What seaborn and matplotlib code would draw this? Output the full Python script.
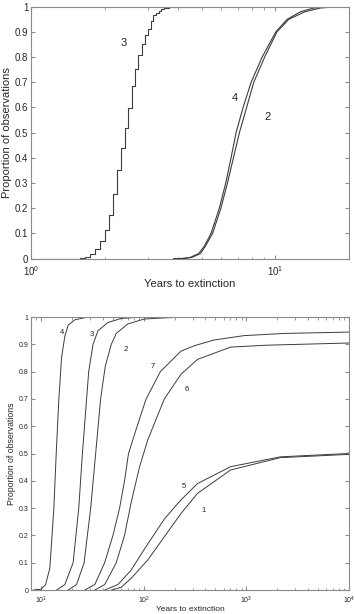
import numpy as np
import pandas as pd
import matplotlib
matplotlib.use("Agg")
import matplotlib.pyplot as plt
import matplotlib.ticker as mticker
import seaborn as sns

# ---------------- Top panel data ----------------
top_c3_months = [12, 19, 20, 21, 22, 23, 24, 25, 26, 27, 28, 29, 30, 31, 32, 33,
                 34, 35, 36, 37, 38, 39, 40, 41, 42, 44, 46, 60]
top_c3_prop = [0.0, 0.003, 0.008, 0.018, 0.038, 0.07, 0.112, 0.175, 0.258, 0.35, 0.44,
               0.518, 0.598, 0.685, 0.752, 0.81, 0.852, 0.888, 0.912, 0.945, 0.968,
               0.975, 0.983, 0.99, 0.995, 0.998, 1.0, 1.0]

top_c4_years = [3.83, 4.2, 4.48, 4.85, 5.12, 5.45, 5.89, 6.26, 6.58, 6.90, 7.37, 7.95,
                8.82, 10.03, 11.16, 12.66, 14.36, 17.3, 20.0]
top_c4_prop = [0.0, 0.001, 0.005, 0.02, 0.05, 0.1, 0.2, 0.3, 0.4, 0.5, 0.6, 0.7, 0.8, 0.9,
               0.95, 0.98, 0.995, 1.0, 1.0]

top_c2_years = [3.83, 4.2, 4.55, 4.93, 5.17, 5.53, 5.98, 6.36, 6.73, 7.12, 7.62, 8.15,
                9.03, 10.14, 11.34, 13.2, 15.3, 18.4, 20.0]
top_c2_prop = [0.0, 0.001, 0.005, 0.02, 0.05, 0.1, 0.2, 0.3, 0.4, 0.5, 0.6, 0.7, 0.8, 0.9,
               0.95, 0.98, 0.995, 1.0, 1.0]

top_labels = ["3", "4", "2"]
top_label_x = [2.405, 6.79, 9.27]
top_label_y = [0.857, 0.638, 0.562]

# ---------------- Bottom panel data ----------------
b4_years = [8.4, 10.0, 11.1, 12.2, 13.36, 14.08, 14.94, 15.86, 17.08, 18.4, 21.35, 28.7, 10000]
b4_prop = [0.0, 0.003, 0.02, 0.08, 0.3, 0.5, 0.7, 0.85, 0.93, 0.97, 0.99, 1.0, 1.0]

b3_years = [14.19, 17.08, 20.57, 23.34, 25.33, 29.17, 32.14, 35.93, 44.88, 60.44, 94.4, 10000]
b3_prop = [0.0, 0.02, 0.1, 0.3, 0.5, 0.8, 0.9, 0.95, 0.98, 0.995, 1.0, 1.0]

b2_years = [18.4, 22.2, 26.3, 30.5, 34.1, 38.1, 42.3, 48.4, 54.1, 70.2, 101.7, 230.5, 10000]
b2_prop = [0.0, 0.02, 0.1, 0.3, 0.5, 0.7, 0.82, 0.9, 0.94, 0.975, 0.993, 1.0, 1.0]

b7_years = [26.7, 33.4, 41.7, 50.2, 58.3, 65.1, 71.2, 86.4, 105.6, 145.4, 230.5, 310.4,
            484.7, 946.4, 2310, 10000]
b7_prop = [0.0, 0.02, 0.1, 0.2, 0.3, 0.4, 0.5, 0.6, 0.7, 0.8, 0.875, 0.895, 0.916,
           0.932, 0.94, 0.945]

b6_years = [33.4, 41.7, 54.1, 65.1, 75.5, 91.0, 109.6, 158.9, 230.5, 334.2, 703, 1593, 10000]
b6_prop = [0.0, 0.02, 0.1, 0.2, 0.32, 0.45, 0.55, 0.7, 0.79, 0.845, 0.89, 0.897, 0.905]

b5_years = [41.7, 56.1, 75.5, 101.7, 158.9, 230.5, 334.2, 703, 2145, 9484, 10000]
b5_prop = [0.0, 0.02, 0.073, 0.15, 0.26, 0.33, 0.39, 0.452, 0.488, 0.5, 0.503]

b1_years = [48.4, 60.4, 75.5, 109.6, 158.9, 230.5, 334.2, 703, 2145, 10000]
b1_prop = [0.0, 0.01, 0.043, 0.11, 0.195, 0.28, 0.354, 0.44, 0.485, 0.497]

bottom_labels = ["4", "3", "2", "7", "6", "5", "1"]
bottom_label_x = [15.86, 30.96, 67.6, 123.4, 263.4, 244.5, 382.1]
bottom_label_y = [0.944, 0.937, 0.883, 0.82, 0.733, 0.378, 0.29]

# ---------------- Styling ----------------
sns.set_style("ticks")
plt.rcParams["font.family"] = ["Liberation Sans", "DejaVu Sans"]
line_color = "#3c3c3c"
spine_color = "#8a8a8a"

fig = plt.figure(figsize=(3.55, 6.14), dpi=100)
ax1 = fig.add_axes([0.0873, 0.5787, 0.896, 0.4104])
ax2 = fig.add_axes([0.0873, 0.039, 0.896, 0.4446])


def style_axes(ax, tick_fs, xpad):
    ax.set_xscale("log")
    for s in ax.spines.values():
        s.set_color(spine_color)
        s.set_linewidth(0.8)
    ax.tick_params(which="both", direction="in", top=True, right=True,
                   color=spine_color, labelsize=tick_fs)
    ax.tick_params(axis="y", pad=2)
    ax.tick_params(axis="x", pad=xpad)
    ax.tick_params(which="major", length=3)
    ax.tick_params(which="minor", length=1.8)
    ax.set_ylim(0, 1)
    ax.set_yticks(np.arange(0, 1.01, 0.1))
    ax.yaxis.set_major_formatter(mticker.FuncFormatter(lambda v, p: f"{v:g}"))
    ax.xaxis.set_major_locator(mticker.LogLocator(base=10))
    ax.xaxis.set_minor_locator(mticker.LogLocator(base=10, subs=np.arange(2, 10)))
    ax.xaxis.set_minor_formatter(mticker.NullFormatter())


# Top panel
df3 = pd.DataFrame({"years": np.array(top_c3_months) / 12.0, "prop": top_c3_prop})
sns.lineplot(data=df3, x="years", y="prop", ax=ax1, color=line_color, lw=0.8,
             drawstyle="steps-post", estimator=None, sort=False)
sns.lineplot(x=top_c4_years, y=top_c4_prop, ax=ax1, color=line_color, lw=0.8,
             estimator=None, sort=False)
sns.lineplot(x=top_c2_years, y=top_c2_prop, ax=ax1, color=line_color, lw=0.8,
             estimator=None, sort=False)
style_axes(ax1, 7, 4)
ax1.set_xlim(1, 20)
ax1.set_xlabel("Years to extinction", fontsize=8, labelpad=1)
ax1.set_ylabel("Proportion of observations", fontsize=8, labelpad=2)
for t, x, y in zip(top_labels, top_label_x, top_label_y):
    ax1.text(x, y, t, fontsize=8, ha="center", va="center", color="#222222")

# Bottom panel
for xs, ys in [(b4_years, b4_prop), (b3_years, b3_prop), (b2_years, b2_prop),
               (b7_years, b7_prop), (b6_years, b6_prop), (b5_years, b5_prop),
               (b1_years, b1_prop)]:
    sns.lineplot(x=xs, y=ys, ax=ax2, color=line_color, lw=0.7,
                 estimator=None, sort=False)
style_axes(ax2, 5, 3)
ax2.set_xlim(8, 10000)
ax2.set_xlabel("Years to extinction", fontsize=6, labelpad=0)
ax2.set_ylabel("Proportion of observations", fontsize=6.3, labelpad=2)
for t, x, y in zip(bottom_labels, bottom_label_x, bottom_label_y):
    ax2.text(x, y, t, fontsize=5.5, ha="center", va="center", color="#222222")

fig.savefig("out.png", dpi=100)
